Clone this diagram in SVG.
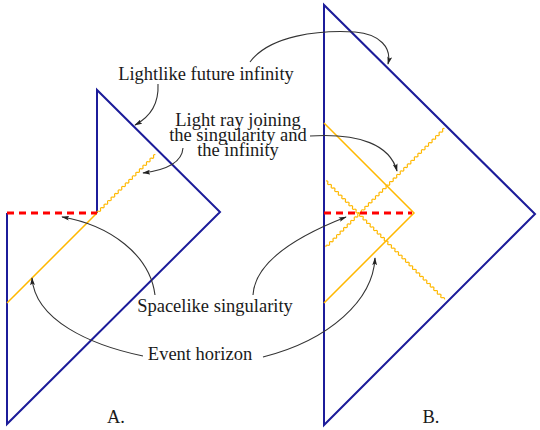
<svg xmlns="http://www.w3.org/2000/svg" width="540" height="430" viewBox="0 0 540 430">
<style>
.b{fill:none;stroke:#1c1c9a;stroke-width:2;stroke-linejoin:miter}
.o{fill:none;stroke:#ffb800;stroke-width:1.5}
.w{fill:none;stroke:#ffb800;stroke-width:1.2}
.r{fill:none;stroke:#ff0000;stroke-width:3;stroke-dasharray:7,5}
.a{fill:none;stroke:#333;stroke-width:1.1;marker-end:url(#ah)}
text{font-family:"Liberation Serif","Times New Roman",serif;font-size:18.5px;fill:#1a1a1a;text-anchor:middle}
</style>
<defs>
<marker id="ah" viewBox="0 0 10 6" refX="9" refY="3" markerWidth="8" markerHeight="5" orient="auto" markerUnits="userSpaceOnUse">
<path d="M0,0 L10,3 L0,6 L2,3 z" fill="#222"/>
</marker>
</defs>
<g id="diagramA">
<path class="b" d="M7,213 V424 L220,212 L97,90 V213"/>
<path class="o" d="M97,213 L7,303"/>
<path class="w" transform="translate(97,213) rotate(-45)" d="M0,0 q1.25,-2 2.5,0 t2.5,0t2.5,0t2.5,0t2.5,0t2.5,0t2.5,0t2.5,0t2.5,0t2.5,0t2.5,0 t2.5,0t2.5,0t2.5,0t2.5,0t2.5,0t2.5,0t2.5,0t2.5,0t2.5,0t2.5,0 t2.5,0t2.5,0t2.5,0t2.5,0t2.5,0t2.5,0t2.5,0t2.5,0t2.5,0t2.5,0 t2.5,0t2.5,0"/>
<path class="r" d="M7,213 H97"/>
<text x="116" y="423">A.</text>
</g>
<g id="diagramB">
<path class="b" d="M324,5 V425 L535,214 Z"/>
<path class="o" d="M324,123 L414,213 L324,303"/>
<path class="w" transform="translate(326,181) rotate(45)" d="M0,0 q1.25,-2 2.5,0 t2.5,0t2.5,0t2.5,0t2.5,0t2.5,0t2.5,0t2.5,0t2.5,0t2.5,0t2.5,0 t2.5,0t2.5,0t2.5,0t2.5,0t2.5,0t2.5,0t2.5,0t2.5,0t2.5,0t2.5,0 t2.5,0t2.5,0t2.5,0t2.5,0t2.5,0t2.5,0t2.5,0t2.5,0t2.5,0t2.5,0 t2.5,0t2.5,0t2.5,0t2.5,0t2.5,0t2.5,0t2.5,0t2.5,0t2.5,0t2.5,0 t2.5,0t2.5,0t2.5,0t2.5,0t2.5,0t2.5,0t2.5,0t2.5,0t2.5,0t2.5,0 t2.5,0t2.5,0t2.5,0t2.5,0t2.5,0t2.5,0t2.5,0t2.5,0t2.5,0t2.5,0 t2.5,0t2.5,0t2.5,0t2.5,0t2.5,0t2.5,0"/>
<path class="w" transform="translate(326,247) rotate(-45)" d="M0,0 q1.25,-2 2.5,0 t2.5,0t2.5,0t2.5,0t2.5,0t2.5,0t2.5,0t2.5,0t2.5,0t2.5,0t2.5,0 t2.5,0t2.5,0t2.5,0t2.5,0t2.5,0t2.5,0t2.5,0t2.5,0t2.5,0t2.5,0 t2.5,0t2.5,0t2.5,0t2.5,0t2.5,0t2.5,0t2.5,0t2.5,0t2.5,0t2.5,0 t2.5,0t2.5,0t2.5,0t2.5,0t2.5,0t2.5,0t2.5,0t2.5,0t2.5,0t2.5,0 t2.5,0t2.5,0t2.5,0t2.5,0t2.5,0t2.5,0t2.5,0t2.5,0t2.5,0t2.5,0 t2.5,0t2.5,0t2.5,0t2.5,0t2.5,0t2.5,0t2.5,0t2.5,0t2.5,0t2.5,0 t2.5,0t2.5,0t2.5,0t2.5,0t2.5,0t2.5,0"/>
<path class="r" d="M324,213 H412"/>
<text x="431" y="423">B.</text>
</g>
<g id="labels">
<text id="lbl-lightlike" x="206" y="80">Lightlike future infinity</text>
<g id="lbl-ray">
<text x="238" y="126">Light ray joining</text>
<text x="238" y="141">the singularity and</text>
<text x="238" y="156">the infinity</text>
</g>
<text id="lbl-spacelike" x="215" y="312">Spacelike singularity</text>
<text id="lbl-horizon" x="200" y="360">Event horizon</text>
</g>
<g id="connectors">
<path class="a" d="M250,62 C270,35 320,30 355,32 C380,34 392,48 388,64"/>
<path class="a" d="M158,84 C159,104 150,117 135,125"/>
<path class="a" d="M310,136 C360,133 390,145 397,171"/>
<path class="a" d="M183,148 C182,162 166,170 143,173"/>
<path class="a" d="M155,295 C150,255 110,225 62,217"/>
<path class="a" d="M253,295 C255,260 300,235 346,217"/>
<path class="a" d="M143,356 C90,345 35,320 32,278"/>
<path class="a" d="M263,357 C330,340 373,300 375,258"/>
</g>
</svg>
